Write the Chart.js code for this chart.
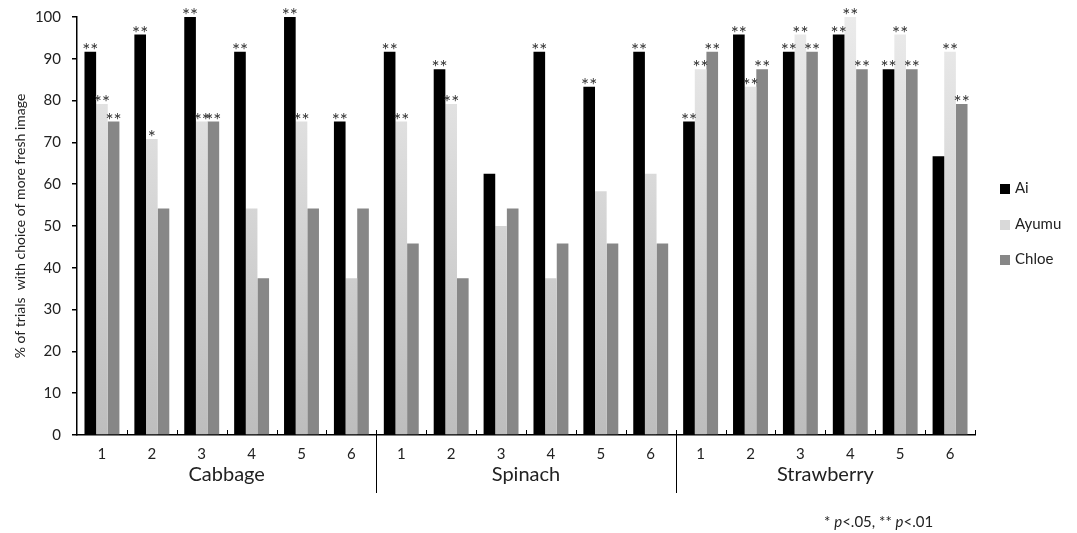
<!DOCTYPE html>
<html>
<head>
<meta charset="utf-8">
<script src="https://cdn.jsdelivr.net/npm/chart.js@4.4.0/dist/chart.umd.min.js"></script>
<style>
  html, body { margin: 0; padding: 0; background: #fff; }
  #wrap { width: 1077px; height: 533px; position: relative; }
  #legend { position: absolute; left: 1000px; top: 0; margin: 0; padding: 0; list-style: none;
            font-family: Lato, "Open Sans", sans-serif; font-size: 15px; color: #222; }
  #legend li { position: absolute; left: 0; height: 20px; line-height: 20px; white-space: nowrap; }
  #legend span { display: inline-block; width: 10px; height: 10px; margin-right: 5px; vertical-align: -1px; }
</style>
</head>
<body>
<div id="wrap"><canvas id="freshChart" width="1077" height="533"></canvas><ul id="legend"></ul></div>
<script>
// Food groups and image pairs within each group
const groups = ['Cabbage', 'Spinach', 'Strawberry'];
const pairs = ['1', '2', '3', '4', '5', '6'];

// % of trials with choice of the more fresh image (Cabbage 1-6, Spinach 1-6, Strawberry 1-6)
const aiValues    = [91.7, 95.8, 100, 91.7, 100, 75,   91.7, 87.5, 62.5, 91.7, 83.3, 91.7,   75, 95.8, 91.7, 95.8, 87.5, 66.7];
const ayumuValues = [79.2, 70.8, 75, 54.2, 75, 37.5,   75, 79.2, 50, 37.5, 58.3, 62.5,       87.5, 83.3, 95.8, 100, 95.8, 91.7];
const chloeValues = [75, 54.2, 75, 37.5, 54.2, 54.2,   45.8, 37.5, 54.2, 45.8, 45.8, 45.8,   91.7, 87.5, 91.7, 87.5, 87.5, 79.2];

// significance marks above each bar
const aiSig    = ['**', '**', '**', '**', '**', '**',   '**', '**', '', '**', '**', '**',   '**', '**', '**', '**', '**', ''];
const ayumuSig = ['**', '*', '**', '', '**', '',       '**', '**', '', '', '', '',         '**', '**', '**', '**', '**', '**'];
const chloeSig = ['**', '', '**', '', '', '',          '', '', '', '', '', '',             '**', '**', '**', '**', '**', '**'];

const yTicks = [0, 10, 20, 30, 40, 50, 60, 70, 80, 90, 100];

const FONT = 'Lato, "Open Sans", sans-serif';

// x labels: pair numbers repeated for each group
const labels = [];
groups.forEach(() => pairs.forEach(p => labels.push(p)));

function ayumuFill(context) {
    const chart = context.chart;
    const area = chart.chartArea;
    if (!area) return '#d8d8d8';
    const g = chart.ctx.createLinearGradient(0, area.top, 0, area.bottom);
    g.addColorStop(0, '#ebebeb');
    g.addColorStop(1, '#bdbdbd');
    return g;
}

// asterisks over the bars
const sigPlugin = {
    id: 'sigMarks',
    afterDatasetsDraw(chart) {
        const ctx = chart.ctx;
        const marks = [aiSig, ayumuSig, chloeSig];
        ctx.save();
        ctx.fillStyle = '#333';
        ctx.font = '19px ' + FONT;
        ctx.textAlign = 'center';
        ctx.textBaseline = 'alphabetic';
        marks.forEach((list, di) => {
            const meta = chart.getDatasetMeta(di);
            meta.data.forEach((bar, i) => {
                if (list[i]) ctx.fillText(list[i], bar.x, bar.y + 5);
            });
        });
        ctx.restore();
    }
};

// inner tick marks, group dividers, group names and footnote
const axisExtras = {
    id: 'axisExtras',
    afterDraw(chart) {
        const ctx = chart.ctx;
        const x = chart.scales.x;
        const bottom = chart.chartArea.bottom;
        const step = x.getPixelForValue(1) - x.getPixelForValue(0);
        ctx.save();
        ctx.strokeStyle = '#000';
        ctx.lineWidth = 1;
        for (let i = 0; i < labels.length; i++) {
            const bx = Math.round(x.getPixelForValue(i) + step / 2) + 0.5;
            ctx.beginPath();
            ctx.moveTo(bx, bottom);
            ctx.lineTo(bx, bottom - 5);
            ctx.stroke();
        }
        // dividers between groups
        for (let gi = 1; gi < groups.length; gi++) {
            const i = gi * pairs.length;
            const bx = Math.round((x.getPixelForValue(i - 1) + x.getPixelForValue(i)) / 2) + 0.5;
            ctx.beginPath();
            ctx.moveTo(bx, bottom);
            ctx.lineTo(bx, bottom + 58);
            ctx.stroke();
        }
        // group names
        ctx.fillStyle = '#222';
        ctx.font = '20px ' + FONT;
        ctx.textAlign = 'center';
        ctx.textBaseline = 'middle';
        groups.forEach((name, gi) => {
            const a = x.getPixelForValue(gi * pairs.length);
            const b = x.getPixelForValue(gi * pairs.length + pairs.length - 1);
            ctx.fillText(name, (a + b) / 2, bottom + 40);
        });
        // footnote
        const parts = [['* ', ''], ['p', 'italic '], ['<.05, ** ', ''], ['p', 'italic '], ['<.01', '']];
        let fx = 824;
        ctx.textAlign = 'left';
        ctx.textBaseline = 'alphabetic';
        parts.forEach(([t, style]) => {
            ctx.font = style + '15px ' + FONT;
            ctx.fillText(t, fx, 527);
            fx += ctx.measureText(t).width;
        });
        ctx.restore();
    }
};

const ctx = document.getElementById('freshChart');

const chart = new Chart(ctx, {
    type: 'bar',
    data: {
        labels: labels,
        datasets: [
            { label: 'Ai', data: aiValues, backgroundColor: '#000000', borderWidth: 0 },
            { label: 'Ayumu', data: ayumuValues, backgroundColor: ayumuFill, borderWidth: 0 },
            { label: 'Chloe', data: chloeValues, backgroundColor: '#878787', borderWidth: 0 }
        ]
    },
    options: {
        responsive: false,
        animation: false,
        devicePixelRatio: 1,
        layout: { padding: { top: 17, right: 102, left: 0, bottom: 0 } },
        datasets: {
            bar: { barPercentage: 1.0, categoryPercentage: 0.7 }
        },
        plugins: {
            legend: { display: false },
            tooltip: { enabled: false }
        },
        scales: {
            x: {
                grid: { display: false },
                border: { display: true, color: '#000', width: 1.5 },
                ticks: {
                    color: '#222',
                    padding: 2,
                    maxRotation: 0,
                    autoSkip: false,
                    font: { family: FONT, size: 15 }
                },
                afterFit(scale) { scale.height = 98; }
            },
            y: {
                min: 0,
                max: 100,
                afterBuildTicks(scale) { scale.ticks = yTicks.map(v => ({ value: v })); },
                grid: { drawOnChartArea: false, drawTicks: true, tickLength: 5, color: '#000', lineWidth: 1.5 },
                border: { display: true, color: '#000', width: 1.5 },
                ticks: {
                    color: '#222',
                    padding: 11,
                    font: { family: FONT, size: 15 }
                },
                title: {
                    display: true,
                    text: '% of trials  with choice of more fresh image',
                    color: '#222',
                    font: { family: FONT, size: 14 },
                    padding: { top: 12, bottom: 0 }
                },
                afterFit(scale) {
                    scale.width = 77;
                    // tick padding would otherwise push the plot top down
                    scale.paddingTop = 0;
                    scale.paddingBottom = 0;
                }
            }
        }
    },
    plugins: [sigPlugin, axisExtras]
});

// HTML legend built from the datasets
const legendColors = ['#000000', '#d9d9d9', '#878787'];
const legendEl = document.getElementById('legend');
chart.data.datasets.forEach((ds, i) => {
    const li = document.createElement('li');
    li.style.top = (177 + i * 35.5) + 'px';
    const box = document.createElement('span');
    box.style.background = legendColors[i];
    li.appendChild(box);
    li.appendChild(document.createTextNode(ds.label));
    legendEl.appendChild(li);
});
</script>
</body>
</html>
